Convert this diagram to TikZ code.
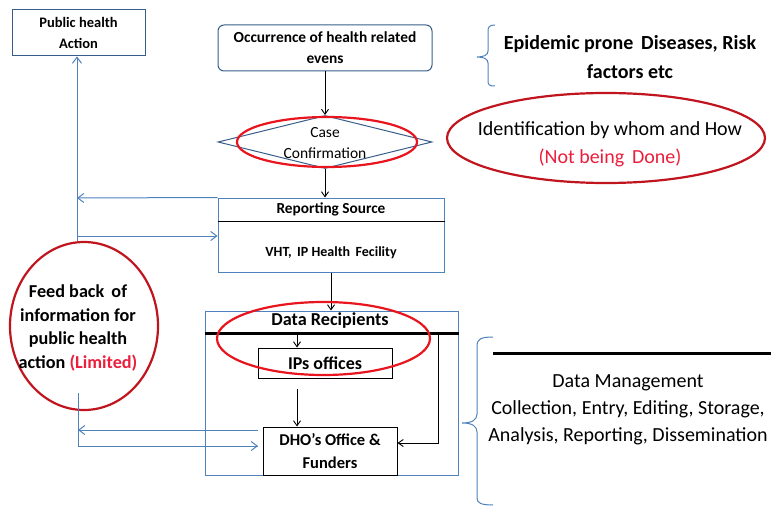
\documentclass[tikz,border=0pt]{standalone}
\usepackage{fontspec}
\setmainfont{Carlito}
\usetikzlibrary{shapes.geometric,arrows.meta}
\definecolor{lblue}{RGB}{79,129,189}
\definecolor{dblue}{RGB}{56,93,138}
\definecolor{dred}{RGB}{192,20,30}
\definecolor{bred}{RGB}{232,20,30}
\definecolor{tred}{RGB}{235,30,60}
\tikzset{
  box/.style={draw=#1, line width=1pt, inner sep=0pt, align=center},
  lbl/.style={inner sep=0pt, align=center, font=#1},
  barrow/.style={draw=black, line width=0.9pt, -{Straight Barb[length=5pt,width=7pt]}},
  blarrow/.style={draw=lblue, line width=1pt, -{Straight Barb[length=6pt,width=9pt]}},
  blline/.style={draw=lblue, line width=1pt},
  oval/.style={draw=#1, line width=2.2pt, ellipse, inner sep=0pt},
}
\begin{document}
\begin{tikzpicture}[x=1pt,y=-1pt]
\useasboundingbox (0,0) rectangle (771,508);
% Public health action
\node[box=dblue, minimum width=133pt, minimum height=46pt, font=\fontsize{14.5}{21}\selectfont\bfseries] (pha) at (78.5,33) {Public health\\Action};
% Occurrence
\node[box=dblue, rounded corners=6pt, minimum width=214pt, minimum height=46pt, font=\fontsize{15.4}{21}\selectfont\bfseries] (occ) at (325,48) {Occurrence of health related\\evens};
% Diamond
\node[draw=dblue, line width=1pt, diamond, minimum width=214pt, minimum height=53pt, inner sep=0pt] (dia) at (325,142) {};
\node[lbl=\fontsize{15.5}{21}\selectfont] (dial) at (325,143) {Case\\Confirmation};
\node[oval=bred, minimum width=180pt, minimum height=50pt] (diao) at (327,142) {};
\draw[barrow] (occ.south) -- (dia.north);
% Reporting source
\node[box=lblue, minimum width=226pt, minimum height=74pt] (rep) at (331,235) {};
\draw[line width=1pt] (rep.west |- 0,221) coordinate (repdl) -- (rep.east |- 0,221) coordinate (repdr);
\node[lbl=\fontsize{15.3}{17}\selectfont\bfseries] (reph) at (331,209.5) {Reporting Source};
\node[lbl=\fontsize{14}{17}\selectfont\bfseries] (repb) at (331,253) {VHT,\, IP Health\, Fecility};
\draw[barrow] (dia.south) -- (dia.south |- rep.north);
% Data recipients
\node[box=lblue, minimum width=253pt, minimum height=164pt] (dr) at (331.5,393) {};
\draw[line width=3pt] (dr.west |- 0,333) coordinate (drl) -- (dr.east |- 0,333) coordinate (drr);
\node[lbl=\fontsize{18.2}{20}\selectfont\bfseries] (drh) at (330,321) {Data Recipients};
\draw[barrow] (rep.south) -- (rep.south |- dr.north);
\node[box=black, minimum width=134pt, minimum height=30pt, font=\fontsize{18}{20}\selectfont\bfseries] (ips) at (325,363) {IPs offices};
\node[box=black, minimum width=134pt, minimum height=48pt, font=\fontsize{16.5}{23}\selectfont\bfseries] (dho) at (330,451) {DHO’s Office \&\\Funders};
\coordinate (ipin) at (297,333);
\draw[barrow] (ipin) -- (ipin |- ips.north);
\coordinate (ipout) at (297,389);
\draw[barrow] (ipout) -- (ipout |- dho.north);
\coordinate (rt) at (438,333);
\coordinate (rb) at (438,443);
\draw[barrow] (rt) -- (rb) -- (rb -| dho.east);
\node[oval=bred, minimum width=213pt, minimum height=73pt] (dro) at (323.5,338.5) {};
% Left feedback
\node[oval=dred, minimum width=148pt, minimum height=168pt] (fb) at (84,326) {};
\node[lbl=\fontsize{18.2}{23.5}\selectfont\bfseries] (fbt) at (78,328) {Feed back\, of\\information for\\public health\\action {\color{tred}(Limited)}};
\coordinate (vx1) at (77,198);
\coordinate (vx2) at (77,236);
\draw[blline] (vx2) -- (fb.north -| vx2);
\draw[blarrow] (vx2) -- (pha.south -| vx2);
\draw[blarrow] (rep.north west) -- (vx1);
\draw[blarrow] (vx2) -- (vx2 -| rep.west);
\coordinate (vb0) at (78,393);
\coordinate (vb1) at (78,430);
\coordinate (vb2) at (78,446);
\coordinate (db1) at (258,430);
\coordinate (db2) at (258,446);
\draw[blline] (vb0) -- (vb2) -- (db2);
\draw[blarrow] (vb2) -- (db2);
\draw[blarrow] (db1) -- (vb1);
% Top right
\draw[blline] (495,25) .. controls (489,25) and (488,27) .. (488,32) -- (488,51) .. controls (488,55) and (484,57) .. (477,57) .. controls (484,57) and (488,59) .. (488,63) -- (488,80) .. controls (488,85) and (489,86) .. (495,86);
\node[lbl=\fontsize{20}{29}\selectfont\bfseries] (epi) at (630,57) {Epidemic prone\, Diseases, Risk\\factors etc};
\node[oval=dred, minimum width=318pt, minimum height=90pt] (ido) at (606,138) {};
\node[lbl=\fontsize{20}{28}\selectfont] (idt) at (610,144) {Identification by whom and How\\{\color{tred}(Not being\, Done)}};
% Bottom right
\draw[blline] (493,337) .. controls (481,337) and (477,339) .. (477,346) -- (477,414) .. controls (477,420) and (472,423) .. (462,423) .. controls (472,423) and (477,426) .. (477,432) -- (477,498) .. controls (477,503) and (481,505) .. (493,505);
\coordinate (dml) at (493,353);
\coordinate (dmr) at (771,353);
\draw[line width=3pt] (dml) -- (dmr);
\node[lbl=\fontsize{20}{27}\selectfont] (dm) at (628,410) {Data Management\\Collection, Entry, Editing, Storage,\\Analysis, Reporting, Dissemination};
\end{tikzpicture}
\end{document}
